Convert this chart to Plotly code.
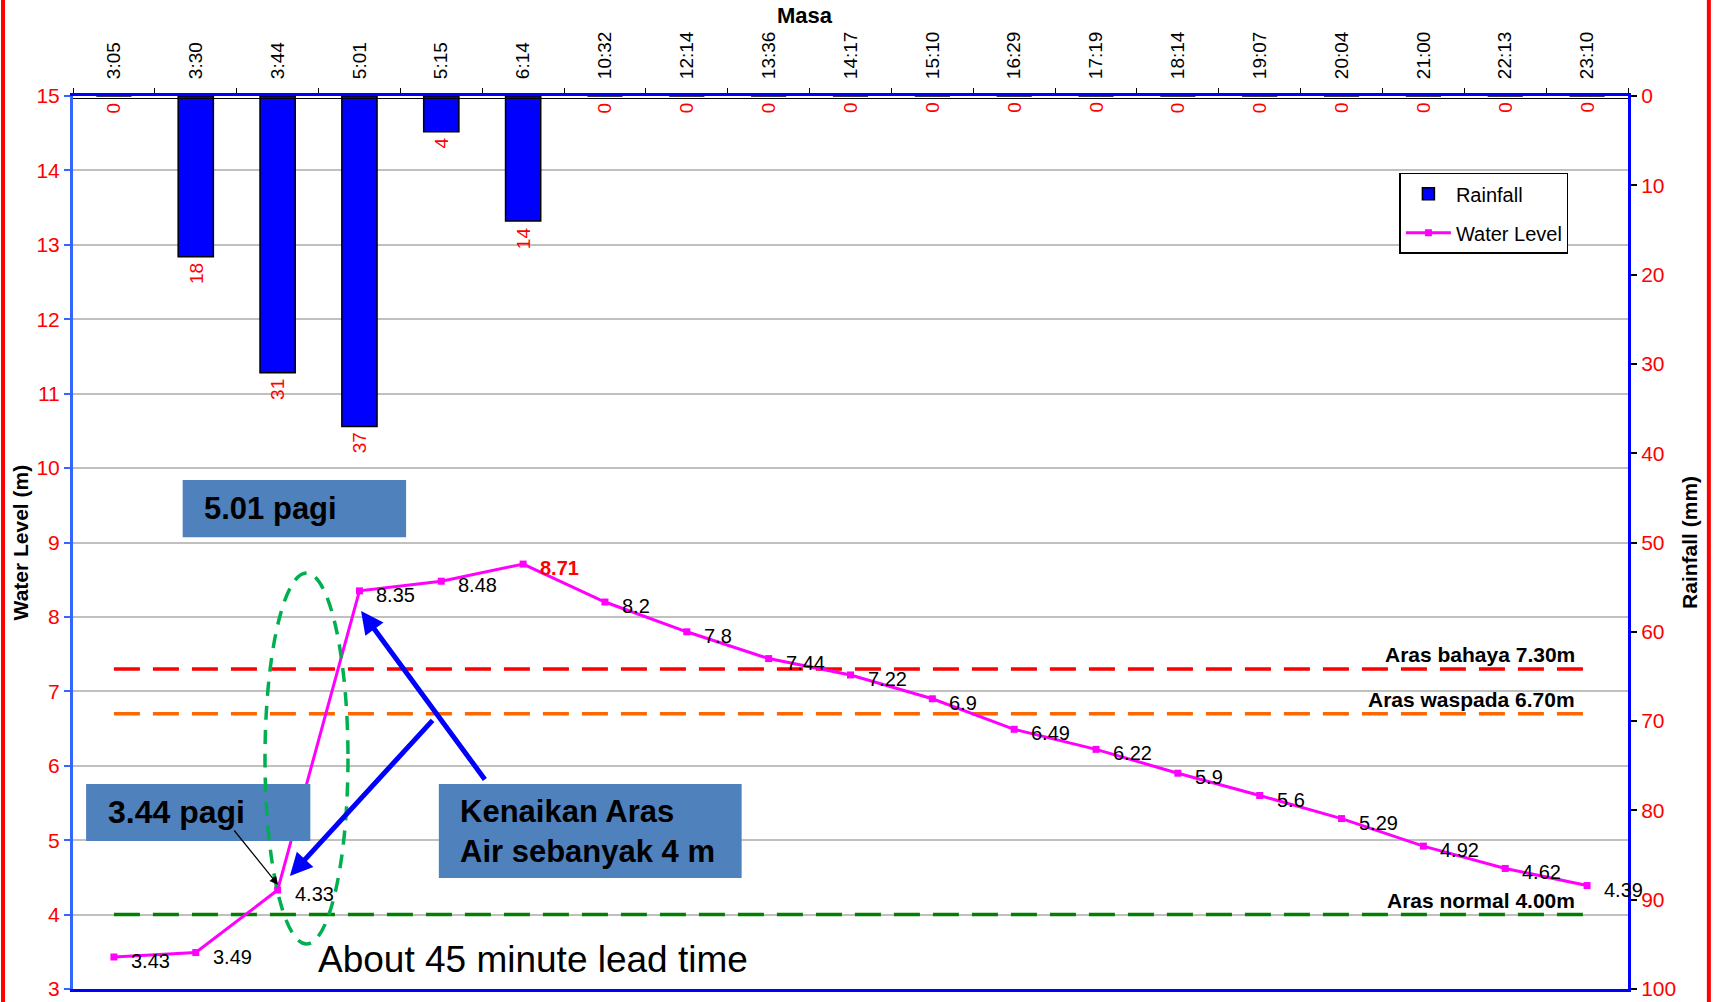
import plotly.graph_objects as go

# ---- data -------------------------------------------------------------
times = ["3:05", "3:30", "3:44", "5:01", "5:15", "6:14", "10:32", "12:14",
         "13:36", "14:17", "15:10", "16:29", "17:19", "18:14", "19:07",
         "20:04", "21:00", "22:13", "23:10"]
rainfall_mm = [0, 18, 31, 37, 4, 14, 0, 0, 0, 0, 0, 0, 0, 0, 0, 0, 0, 0, 0]
water_level_m = [3.43, 3.49, 4.33, 8.35, 8.48, 8.71, 8.2, 7.8, 7.44, 7.22,
                 6.9, 6.49, 6.22, 5.9, 5.6, 5.29, 4.92, 4.62, 4.39]

level_names = ["Aras bahaya 7.30m", "Aras waspada 6.70m", "Aras normal 4.00m"]
level_values = [7.30, 6.70, 4.00]
level_colors = ["#FF0000", "#FF6600", "#008000"]

FONT = "Liberation Sans, Arial, sans-serif"
W, H = 1717, 1002
ML, MR, MT, MB = 73, 89, 96, 13

fig = go.Figure()

# rainfall bars hanging from the top (reversed right axis)
fig.add_trace(go.Bar(
    x=times, y=rainfall_mm, yaxis="y2", name="Rainfall",
    marker=dict(color="#0000FF", line=dict(color="black", width=1.5)),
    width=0.43, legendgroup="rain", hoverinfo="x+y",
))

# rainfall value labels, rotated, just below each bar end
for t, v in zip(times, rainfall_mm):
    fig.add_annotation(
        x=t, y=v, xref="x", yref="y2", text=str(v), textangle=-90,
        showarrow=False, xanchor="center", yanchor="top", yshift=-4,
        font=dict(size=19, color="#FF0000", family=FONT),
    )

# warning levels
for name, val, col in zip(level_names, level_values, level_colors):
    fig.add_trace(go.Scatter(
        x=[times[0], times[-1]], y=[val, val], mode="lines",
        line=dict(color=col, width=3.5, dash="26px,13px"),
        showlegend=False, hoverinfo="skip",
    ))
    fig.add_annotation(
        x=17.88, y=val, xref="x", yref="y", text=f"<b>{name}</b>",
        showarrow=False, xanchor="right", yanchor="bottom", yshift=1,
        font=dict(size=21, color="black", family=FONT),
    )

# water level line
fig.add_trace(go.Scatter(
    x=times, y=water_level_m, name="Water Level", mode="lines+markers",
    line=dict(color="#FF00FF", width=3), legendgroup="level",
    marker=dict(symbol="square", size=7, color="#FF00FF"),
))

# point labels, the peak in bold red
peak = max(water_level_m)
for t, v in zip(times, water_level_m):
    is_peak = v == peak
    fig.add_annotation(
        x=t, y=v, xref="x", yref="y",
        text=f"<b>{v:g}</b>" if is_peak else f"{v:g}",
        showarrow=False, xanchor="left", yanchor="middle",
        xshift=15, yshift=-4,
        font=dict(size=20, color="#FF0000" if is_peak else "black", family=FONT),
    )

# callout boxes
BOX = "#4F81BD"
boxes = [
    (0.84, 3.57, 9.07, 9.84),
    (-0.34, 2.40, 4.99, 5.755),
    (3.97, 7.67, 4.49, 5.755),
]
for x0, x1, y0, y1 in boxes:
    fig.add_shape(type="rect", xref="x", yref="y", x0=x0, x1=x1, y0=y0, y1=y1,
                  fillcolor=BOX, line=dict(width=0), layer="above")

fig.add_annotation(x=1.08, y=9.46, xref="x", yref="y", text="<b>5.01 pagi</b>",
                   showarrow=False, xanchor="left", yanchor="middle",
                   font=dict(size=31, color="black", family=FONT))
fig.add_annotation(x=-0.10, y=5.38, xref="x", yref="y", text="<b>3.44 pagi</b>",
                   showarrow=False, xanchor="left", yanchor="middle",
                   font=dict(size=32, color="black", family=FONT))
fig.add_annotation(x=4.20, y=5.12, xref="x", yref="y",
                   text="<b>Kenaikan Aras<br>Air sebanyak 4 m</b>",
                   showarrow=False, xanchor="left", yanchor="middle", align="left",
                   font=dict(size=31, color="black", family=FONT))

# lead-time ellipse and caption
fig.add_shape(type="circle", xref="x", yref="y", x0=1.846, x1=2.86, y0=3.605, y1=8.59,
              line=dict(color="#00B050", width=3.5, dash="14px,10px"), layer="above")
fig.add_annotation(x=2.47, y=3.39, xref="x", yref="y", text="About 45 minute lead time",
                   showarrow=False, xanchor="left", yanchor="middle",
                   font=dict(size=37, color="black", family=FONT))

# arrows
fig.add_annotation(x=3.02, y=8.08, ax=4.546, ay=5.795, xref="x", yref="y",
                   axref="x", ayref="y", text="", showarrow=True,
                   arrowhead=2, arrowsize=0.9, arrowwidth=5, arrowcolor="#0000FF")
fig.add_annotation(x=2.15, y=4.52, ax=3.91, ay=6.63, xref="x", yref="y",
                   axref="x", ayref="y", text="", showarrow=True,
                   arrowhead=2, arrowsize=0.9, arrowwidth=5, arrowcolor="#0000FF")
fig.add_annotation(x=2.005, y=4.40, ax=1.455, ay=5.15, xref="x", yref="y",
                   axref="x", ayref="y", text="", showarrow=True,
                   arrowhead=2, arrowsize=1.4, arrowwidth=1.2, arrowcolor="black")

# axis titles
fig.add_annotation(x=0.4707, y=1.0896, xref="paper", yref="paper", text="<b>Masa</b>",
                   showarrow=False, xanchor="center", yanchor="middle",
                   font=dict(size=22, color="black", family=FONT))
fig.add_annotation(x=-0.0335, y=0.5, xref="paper", yref="paper",
                   text="<b>Water Level (m)</b>", textangle=-90, showarrow=False,
                   xanchor="center", yanchor="middle",
                   font=dict(size=21, color="black", family=FONT))
fig.add_annotation(x=1.0395, y=0.5, xref="paper", yref="paper",
                   text="<b>Rainfall (mm)</b>", textangle=-90, showarrow=False,
                   xanchor="center", yanchor="middle",
                   font=dict(size=21, color="black", family=FONT))

# thin dark rule just under the top axis line
fig.add_shape(type="line", xref="paper", yref="paper", x0=0, x1=1,
              ysizemode="pixel", yanchor=1, y0=-2.5, y1=-2.5,
              line=dict(color="black", width=1.2), layer="above")

# red frame edges
for xp in (-0.045, 1.052):
    fig.add_shape(type="line", xref="paper", yref="paper", x0=xp, x1=xp,
                  y0=-0.02, y1=1.11, line=dict(color="#FF0000", width=4))

fig.update_layout(
    template="none",
    width=W, height=H,
    margin=dict(l=ML, r=MR, t=MT, b=MB, autoexpand=False),
    paper_bgcolor="white", plot_bgcolor="white",
    font=dict(family=FONT, color="black"),
    showlegend=True,
    legend=dict(x=0.853, y=0.914, xanchor="left", yanchor="top",
                bgcolor="white", bordercolor="black", borderwidth=1.5,
                font=dict(size=20, color="black", family=FONT),
                tracegroupgap=10, itemwidth=45),
    xaxis=dict(
        type="category", side="top", tickangle=-90, tickson="boundaries",
        ticks="outside", ticklen=5, tickcolor="black", tickwidth=1,
        ticklabelstandoff=10,
        showline=True, linecolor="#0000FF", linewidth=3, mirror=True,
        showgrid=False, range=[-0.5, 18.5], automargin=False,
        tickfont=dict(size=19, color="black", family=FONT),
    ),
    yaxis=dict(
        range=[3, 15], tick0=3, dtick=1, ticks="outside", ticklen=6,
        tickcolor="#3366FF", tickwidth=2, showline=True, linecolor="#3366FF",
        linewidth=3, showgrid=True, gridcolor="#C0C0C0", gridwidth=1.5,
        zeroline=False, automargin=False,
        tickfont=dict(size=21, color="#FF0000", family=FONT),
    ),
    yaxis2=dict(
        overlaying="y", side="right", range=[100, 0], tick0=0, dtick=10,
        ticks="outside", ticklen=6, tickcolor="black", tickwidth=1.5,
        showline=True, linecolor="#0000FF", linewidth=3, showgrid=False,
        zeroline=False, automargin=False,
        tickfont=dict(size=21, color="#FF0000", family=FONT),
    ),
)

fig.write_html("out.html")
